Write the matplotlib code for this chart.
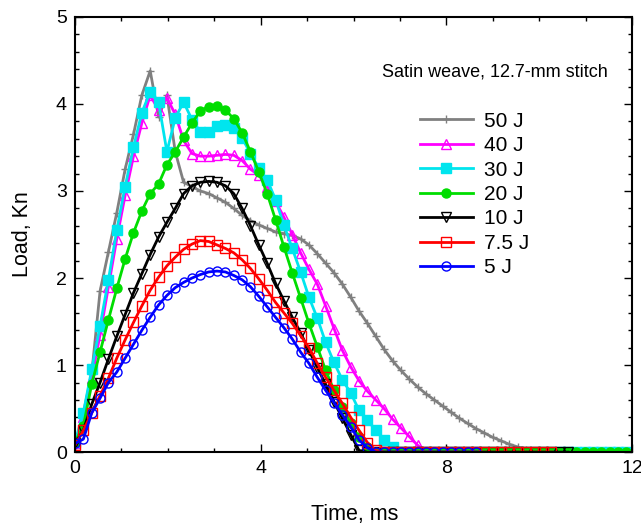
import numpy as np
import matplotlib
matplotlib.use("Agg")
import matplotlib.pyplot as plt
from matplotlib.ticker import MultipleLocator

plt.rcParams["font.family"] = ["Liberation Sans", "DejaVu Sans"]

# sampling grid of the load cell record (ms)
t_ms = np.round(np.arange(0, 12.0, 0.18), 2)

# load (kN) per impact energy; zeros after the curve lands
load_50 = [0.05, 0.45, 0.9, 1.85, 2.3, 2.75, 3.25, 3.65, 4.1, 4.38, 3.85, 4.1,
           3.45, 3.1, 3.05, 3.0, 2.97, 2.92, 2.87, 2.8, 2.72, 2.66, 2.61, 2.57,
           2.53, 2.51, 2.49, 2.45, 2.38, 2.28, 2.17, 2.06, 1.93, 1.78, 1.62, 1.48,
           1.33, 1.18, 1.05, 0.94, 0.84, 0.75, 0.67, 0.6, 0.53, 0.46, 0.39, 0.33,
           0.27, 0.22, 0.17, 0.13, 0.09, 0.06, 0.03, 0.01, 0.0, 0.0, 0.0]
load_40 = [0.1, 0.4, 0.85, 1.35, 1.9, 2.45, 2.95, 3.4, 3.78, 4.1, 3.93, 4.07,
           3.88, 3.58, 3.43, 3.4, 3.4, 3.41, 3.42, 3.41, 3.35, 3.25, 3.18, 3.05,
           2.88, 2.7, 2.5, 2.29, 2.1, 1.93, 1.68, 1.42, 1.17, 0.98, 0.82, 0.7,
           0.6, 0.5, 0.38, 0.28, 0.18, 0.08, 0.0] + [0.0] * 24
load_30 = [0.12, 0.45, 0.95, 1.45, 1.98, 2.55, 3.05, 3.5, 3.9, 4.14, 4.02, 3.45,
           3.84, 4.02, 3.82, 3.68, 3.68, 3.75, 3.76, 3.72, 3.61, 3.43, 3.26, 3.13,
           2.9, 2.61, 2.34, 2.07, 1.78, 1.54, 1.26, 1.03, 0.83, 0.68, 0.48, 0.37,
           0.25, 0.14, 0.06, 0.0] + [0.0] * 27
load_20 = [0.12, 0.3, 0.78, 1.15, 1.52, 1.88, 2.22, 2.52, 2.77, 2.97, 3.08, 3.3,
           3.45, 3.62, 3.78, 3.92, 3.97, 3.98, 3.93, 3.83, 3.67, 3.45, 3.22, 2.97,
           2.67, 2.36, 2.06, 1.77, 1.48, 1.21, 0.94, 0.71, 0.52, 0.33, 0.17, 0.06,
           0.0] + [0.0] * 30
load_10 = [0.1, 0.25, 0.55, 0.8, 1.07, 1.33, 1.58, 1.83, 2.05, 2.27, 2.47, 2.64,
           2.8, 2.97, 3.06, 3.1, 3.11, 3.1, 3.06, 2.97, 2.8, 2.6, 2.38, 2.17,
           1.94, 1.74, 1.55, 1.37, 1.17, 0.97, 0.78, 0.58, 0.39, 0.2, 0.02,
           0.0] + [0.0] * 24
load_7_5 = [0.08, 0.25, 0.45, 0.65, 0.85, 1.08, 1.29, 1.49, 1.68, 1.86, 2.01, 2.14,
            2.24, 2.33, 2.39, 2.43, 2.42, 2.38, 2.34, 2.29, 2.21, 2.11, 1.99, 1.86,
            1.72, 1.6, 1.48, 1.34, 1.2, 1.02, 0.86, 0.71, 0.56, 0.4, 0.25, 0.11,
            0.02, 0.0] + [0.0] * 20
load_5 = [0.1, 0.15, 0.45, 0.62, 0.8, 0.92, 1.08, 1.24, 1.4, 1.55, 1.69, 1.8,
          1.89, 1.95, 2.0, 2.04, 2.07, 2.08, 2.07, 2.03, 1.98, 1.9, 1.79, 1.67,
          1.55, 1.43, 1.3, 1.15, 1.02, 0.86, 0.71, 0.57, 0.43, 0.29, 0.14, 0.05,
          0.0] + [0.0] * 12

energies = ["50 J", "40 J", "30 J", "20 J", "10 J", "7.5 J", "5 J"]
loads = [load_50, load_40, load_30, load_20, load_10, load_7_5, load_5]
styles = [
    dict(color="#808080", marker="+", ms=6, mew=1.0),
    dict(color="#ff00ff", marker="^", ms=7, mfc="none", mew=1.0),
    dict(color="#00e5ee", marker="s", ms=6.5, mfc="#00e5ee"),
    dict(color="#00dd00", marker="o", ms=6.5, mfc="#00dd00"),
    dict(color="black", marker="v", ms=6.5, mfc="none", mew=1.0),
    dict(color="#ff0000", marker="s", ms=7, mfc="none", mew=1.0),
    dict(color="#0000ff", marker="o", ms=6.5, mfc="none", mew=1.0),
]

fig = plt.figure(figsize=(6.41, 5.27), dpi=100)
ax = fig.add_axes([0.117, 0.142, 0.869, 0.826])

for label, vals, st in zip(energies, loads, styles):
    ax.plot(t_ms[:len(vals)], vals, lw=2, label=label, **st)

ax.set_xlim(0, 12)
ax.set_ylim(0, 5)
ax.xaxis.set_major_locator(MultipleLocator(4))
ax.xaxis.set_minor_locator(MultipleLocator(1))
ax.yaxis.set_major_locator(MultipleLocator(1))
ax.yaxis.set_minor_locator(MultipleLocator(0.2))
ax.tick_params(which="both", direction="in", top=True, right=True, labelsize=14, width=1)
ax.tick_params(which="major", length=6, pad=6)
ax.tick_params(which="minor", length=3)
for sp in ax.spines.values():
    sp.set_linewidth(1.5)

ax.set_xlabel("Time, ms", fontsize=15.5)
ax.set_ylabel("Load, Kn", fontsize=15.5)
ax.xaxis.set_label_coords(0.502, -0.118)
ax.yaxis.set_label_coords(-0.075, 0.5)

ax.text(0.551, 0.874, "Satin weave, 12.7-mm stitch", transform=ax.transAxes,
        fontsize=13, va="center", ha="left")
ax.legend(loc="upper left", bbox_to_anchor=(0.619, 0.782), frameon=False,
          fontsize=15, handlelength=2.55, handletextpad=0.55, labelspacing=0.26,
          borderpad=0, borderaxespad=0)

plt.savefig("out.png", dpi=100)
